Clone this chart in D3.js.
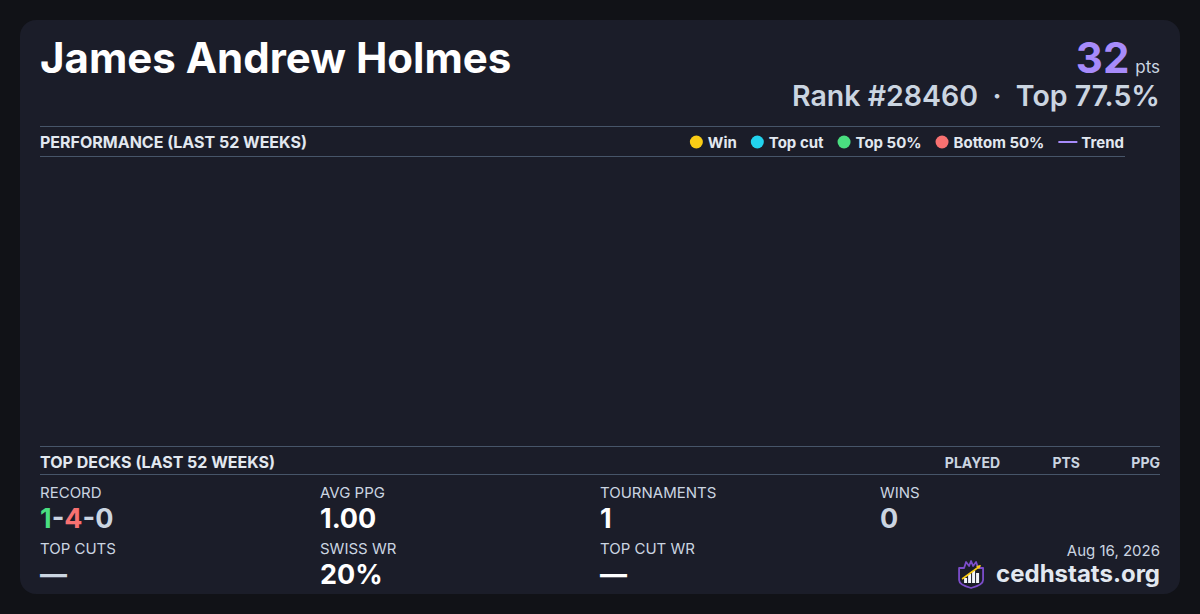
<!DOCTYPE html>
<html>
<head>
<meta charset="utf-8">
<script src="https://cdn.jsdelivr.net/npm/d3@7"></script>
<style>
  html, body { margin: 0; padding: 0; background: #111217; }
  svg { display: block; font-family: Inter, "Noto Sans", sans-serif; }
</style>
</head>
<body>
<svg id="card" width="1200" height="614"></svg>
<script>
// player
var playerName = "James Andrew Holmes";
var points = 32;
var rankText = "Rank #28460";
var topText = "Top 77.5%";
var cardDate = "Aug 16, 2026";

// performance chart (no weekly results in range)
var weeks = d3.range(52);
var weeklyResults = [];
var legendLabels = ["Win", "Top cut", "Top 50%", "Bottom 50%", "Trend"];
var legendColors = ["#facc15", "#22d3ee", "#4ade80", "#f87171", "#a78bfa"];

// top decks table
var deckColumns = ["PLAYED", "PTS", "PPG"];
var topDecks = [];

// stats
var statLabels = ["RECORD", "AVG PPG", "TOURNAMENTS", "WINS", "TOP CUTS", "SWISS WR", "TOP CUT WR"];
var statValues = ["1-4-0", "1.00", "1", "0", "—", "20%", "—"];
var recordParts = [1, 4, 0];

var svg = d3.select("#card");
var L = 40, R = 1160;

// card
svg.append("rect").attr("x", 20).attr("y", 20).attr("width", 1160).attr("height", 574)
    .attr("rx", 16).attr("fill", "#1b1d29");

// header
svg.append("text").attr("x", L).attr("y", 73).text(playerName)
    .attr("fill", "#ffffff").attr("font-size", 42).attr("font-weight", 700);

var pts = svg.append("text").attr("x", R).attr("y", 73).attr("text-anchor", "end");
pts.append("tspan").text(points).attr("fill", "#a78bfa").attr("font-size", 42).attr("font-weight", 700);
pts.append("tspan").text(" pts").attr("fill", "#cbd5e1").attr("font-size", 17).attr("dx", 1);

svg.append("text").attr("x", R).attr("y", 106).attr("text-anchor", "end")
    .attr("fill", "#cbd5e1").attr("font-size", 28.5).attr("font-weight", 600)
    .text(rankText + "  ·  " + topText).style("white-space", "pre");

// section rules
function rule(y, x2) {
    svg.append("line").attr("x1", L).attr("x2", x2).attr("y1", y + 0.5).attr("y2", y + 0.5)
        .attr("stroke", "#475569").attr("stroke-width", 1);
}
rule(126, R);
rule(156, 1125);
rule(446, R);
rule(474, R);

svg.append("text").attr("x", L).attr("y", 147.5).text("PERFORMANCE (LAST 52 WEEKS)")
    .attr("fill", "#e2e8f0").attr("font-size", 16).attr("font-weight", 700);

// legend, laid out right-to-left from the chart's right edge
var legendG = svg.append("g");
var legendX = 1124;
for (var i = legendLabels.length - 1; i >= 0; i--) {
    var t = legendG.append("text").attr("y", 147.5).text(legendLabels[i])
        .attr("fill", "#e2e8f0").attr("font-size", 15).attr("font-weight", 700)
        .attr("text-anchor", "end").attr("x", legendX);
    var tw = t.node().getComputedTextLength();
    var sx = legendX - tw - 4;
    if (legendLabels[i] === "Trend") {
        legendG.append("line").attr("x1", sx - 19).attr("x2", sx).attr("y1", 142).attr("y2", 142)
            .attr("stroke", legendColors[i]).attr("stroke-width", 2);
        legendX = sx - 19 - 14;
    } else {
        sx -= 1;
        legendG.append("circle").attr("cx", sx - 6.5).attr("cy", 142).attr("r", 6.5)
            .attr("fill", legendColors[i]);
        legendX = sx - 13 - 14;
    }
}

// chart area (empty: no results)
var x = d3.scaleBand().domain(weeks).range([L, 1125]).padding(0.2);
var y = d3.scaleLinear().domain([0, 1]).range([440, 165]);
var colorBy = d3.scaleOrdinal().domain(legendLabels).range(legendColors);
svg.append("g").selectAll("rect").data(weeklyResults).enter().append("rect")
    .attr("x", function (d) { return x(d.week); })
    .attr("width", x.bandwidth())
    .attr("y", function (d) { return y(d.value); })
    .attr("height", function (d) { return y(0) - y(d.value); })
    .attr("fill", function (d) { return colorBy(d.result); });

// top decks header
svg.append("text").attr("x", L).attr("y", 467.5).text("TOP DECKS (LAST 52 WEEKS)")
    .attr("fill", "#e2e8f0").attr("font-size", 16).attr("font-weight", 700);
var colRight = [1000, 1080, 1160];
svg.append("g").selectAll("text").data(deckColumns).enter().append("text")
    .attr("x", function (d, i) { return colRight[i]; }).attr("y", 467.5)
    .attr("text-anchor", "end").text(function (d) { return d; })
    .attr("fill", "#cbd5e1").attr("font-size", 14).attr("font-weight", 700);

// stats grid
var colX = [40, 320, 600, 880];
var valueColors = [null, "#ffffff", "#ffffff", "#cbd5e1", "#cbd5e1", "#ffffff", "#ffffff"];
statLabels.forEach(function (lab, i) {
    var cx = colX[i % 4], row = Math.floor(i / 4);
    svg.append("text").attr("x", cx).attr("y", 497.5 + row * 56).text(lab)
        .attr("fill", "#cbd5e1").attr("font-size", 15);
    var v = svg.append("text").attr("x", cx).attr("y", 527.5 + row * 56)
        .attr("font-size", 27).attr("font-weight", 700);
    if (lab === "RECORD") {
        v.append("tspan").text(recordParts[0]).attr("fill", "#4ade80");
        v.append("tspan").text("-").attr("fill", "#cbd5e1");
        v.append("tspan").text(recordParts[1]).attr("fill", "#f87171");
        v.append("tspan").text("-" + recordParts[2]).attr("fill", "#cbd5e1");
    } else {
        v.text(statValues[i]).attr("fill", valueColors[i]);
    }
});

// footer
svg.append("text").attr("x", R).attr("y", 556).attr("text-anchor", "end").text(cardDate)
    .attr("fill", "#cbd5e1").attr("font-size", 15);
var brand = svg.append("text").attr("x", R).attr("y", 582).attr("text-anchor", "end").text("cedhstats.org")
    .attr("fill", "#e2e8f0").attr("font-size", 24).attr("font-weight", 700);
var bw = brand.node().getComputedTextLength();

// logo
var lg = svg.append("g").attr("transform", "translate(" + (R - bw - 39) + ",560)");
lg.append("path")
    .attr("d", "M2,8 L7,8 L9,2 L12,6 L14,1 L16,6 L19,2 L21,8 L26,8 L26,20 Q26,25 14,28 Q2,25 2,20 Z")
    .attr("fill", "#1b1d29").attr("stroke", "#7c4dca").attr("stroke-width", 1.8).attr("stroke-linejoin", "round");
[[7, 18, 3], [11, 14, 3], [15, 11, 3], [19, 13, 3]].forEach(function (b) {
    lg.append("rect").attr("x", b[0]).attr("y", b[1]).attr("width", b[2]).attr("height", 23 - b[1]).attr("fill", "#f1f5f9");
});
lg.append("line").attr("x1", 5).attr("y1", 19).attr("x2", 23).attr("y2", 6)
    .attr("stroke", "#facc15").attr("stroke-width", 1.6);
lg.append("path").attr("d", "M24,5 L19,6 L22,9 Z").attr("fill", "#facc15");
</script>
</body>
</html>
